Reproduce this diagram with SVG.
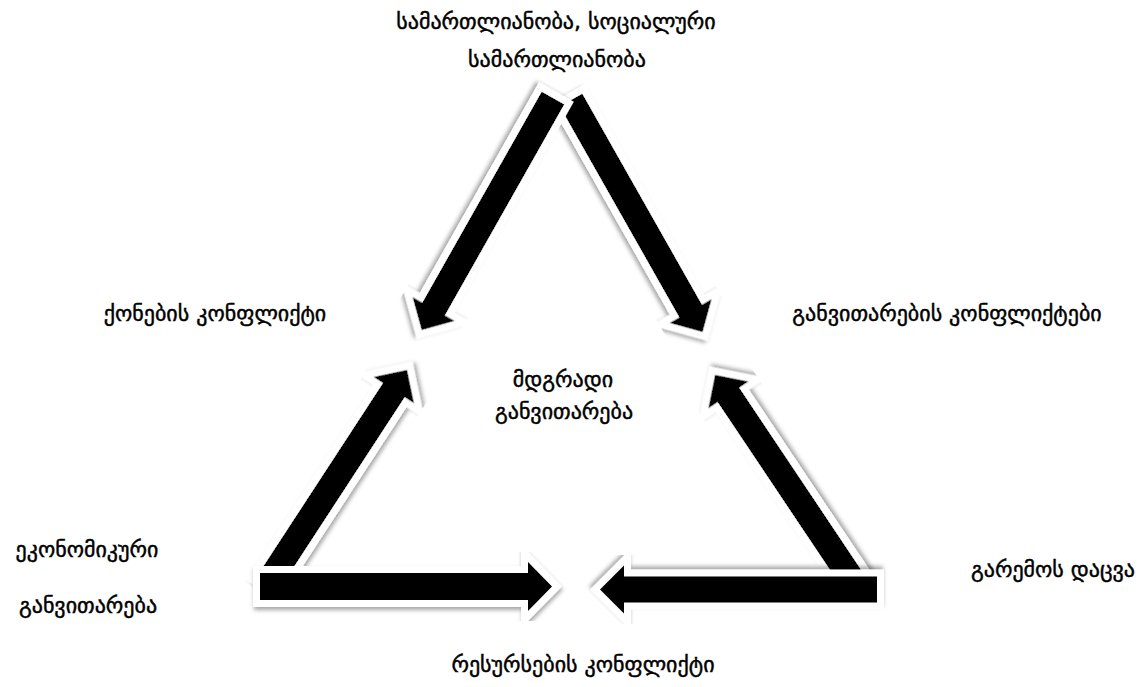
<svg xmlns="http://www.w3.org/2000/svg" width="1146" height="687" viewBox="0 0 1146 687">
<style>
  .lbl { font-family: "DejaVu Sans", "Noto Sans", sans-serif; font-size: 22px; fill: #000; stroke: #000; stroke-width: 0.45; text-anchor: middle; }
  .arrow { fill: #000; stroke: #fff; stroke-width: 14; paint-order: stroke; stroke-linejoin: miter; stroke-miterlimit: 10; filter: url(#sh); }
</style>
<defs>
  <filter id="sh" x="-20%" y="-20%" width="140%" height="140%">
    <feDropShadow dx="1" dy="3" stdDeviation="2" flood-color="#000" flood-opacity="0.35"/>
  </filter>
</defs>
<rect width="1146" height="687" fill="#fff"/>
<g id="connectors">
  <path class="arrow" transform="translate(571,100) rotate(60.45)" d="M0,-13 H242.7 V-24 L266.7,0 L242.7,24 V13 H0 Z"/>
  <path class="arrow" transform="translate(553,98) rotate(119.5)" d="M0,-13 H242.6 V-24 L266.6,0 L242.6,24 V13 H0 Z"/>
  <path class="arrow" transform="translate(266.6,585) rotate(-56.86)" d="M0,-13 H232.8 V-24 L256.8,0 L232.8,24 V13 H0 Z"/>
  <path class="arrow" transform="translate(260,586.5)" d="M0,-13.5 H268 V-24.5 L292,0 L268,24.5 V13.5 H0 Z"/>
  <path class="arrow" transform="translate(855.7,585) rotate(-123.8)" d="M0,-13 H228.8 V-24 L252.8,0 L228.8,24 V13 H0 Z"/>
  <path class="arrow" transform="translate(877,589.5) rotate(180)" d="M0,-13 H253 V-24 L277,0 L253,24 V13 H0 Z"/>
</g>
<g id="node-justice">
  <text class="lbl" x="556" y="29">სამართლიანობა, სოციალური</text>
  <text class="lbl" x="557" y="67">სამართლიანობა</text>
</g>
<g id="node-property">
  <text class="lbl" x="215" y="321">ქონების კონფლიქტი</text>
</g>
<g id="node-development-conflicts">
  <text class="lbl" x="947" y="321">განვითარების კონფლიქტები</text>
</g>
<g id="node-center">
  <text class="lbl" x="563" y="387">მდგრადი</text>
  <text class="lbl" x="564" y="419">განვითარება</text>
</g>
<g id="node-economic">
  <text class="lbl" x="87" y="557">ეკონომიკური</text>
  <text class="lbl" x="88" y="613">განვითარება</text>
</g>
<g id="node-environment">
  <text class="lbl" x="1053" y="577">გარემოს დაცვა</text>
</g>
<g id="node-resources">
  <text class="lbl" x="583" y="672">რესურსების კონფლიქტი</text>
</g>
</svg>
